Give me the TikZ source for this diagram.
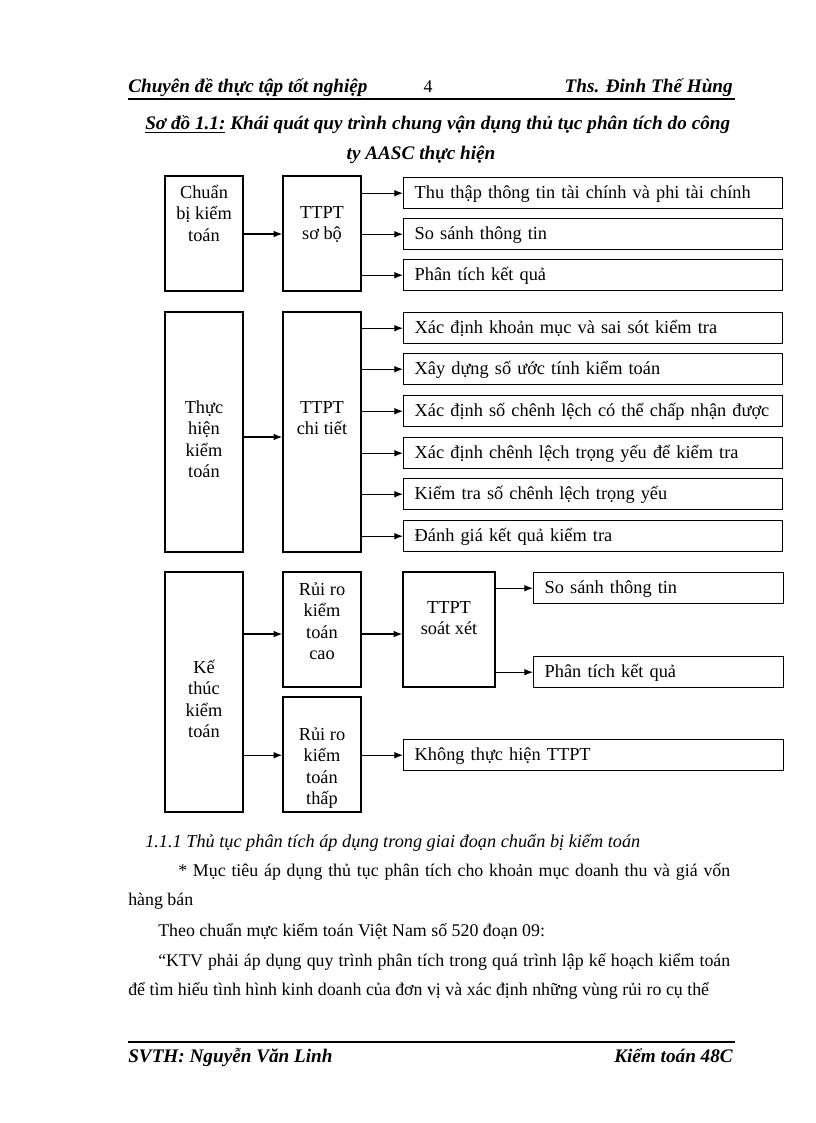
\documentclass[tikz,border=0pt]{standalone}
\usepackage{fontspec}
\setmainfont{Liberation Serif}
\usetikzlibrary{arrows.meta,fit}
\newcommand\stk[1]{\begin{tabular}{@{}c@{}}#1\end{tabular}}
\begin{document}
\begin{tikzpicture}[x=0.75pt,y=-0.75pt,
  font=\fontsize{13.75}{16.1}\selectfont,
  box/.style={draw, line width=1.1pt, inner sep=0pt},
  lbl/.style={inner sep=0pt, anchor=north},
  rbox/.style={draw, line width=1.1pt, anchor=north west, minimum width=284.25pt,
    minimum height=23.25pt, text width=267.75pt, align=left, inner xsep=8.25pt,
    inner ysep=0pt, text height=11pt, text depth=2.75pt},
  arr/.style={line width=0.9pt, -{Latex[length=6.5pt,width=5pt]}},
  txt/.style={inner sep=0pt, anchor=base west},
  body/.style={font=\fontsize{13.4}{16.1}\selectfont},
  bi/.style={font=\fontsize{14.4}{17}\selectfont\bfseries\itshape},
  tbi/.style={font=\fontsize{14.4}{17}\selectfont\bfseries\itshape},
  rule/.style={line width=1.6pt}]
\fill[white] (0,0) rectangle (816,1123);
\useasboundingbox (0,0) rectangle (816,1123);

% header
\node[txt, bi] (h1) at (128,93) {Chuyên đề thực tập tốt nghiệp};
\node[inner sep=0pt, anchor=base, body] (h2) at (428,93) {4};
\node[inner sep=0pt, anchor=base east, bi] (h3) at (733,93) {Ths. Đinh Thế Hùng};
\draw[rule] (128,99) -- (735,99);

% title
\node[txt, tbi] (t1) at (145,130) {\makebox[438.75pt][s]{\underline{Sơ đồ 1.1:} Khái quát quy trình chung vận dụng thủ tục phân tích do công}};
\node[inner sep=0pt, anchor=base, tbi] (t2) at (421,160) {ty AASC thực hiện};

% left boxes
\node[box, fit={(165,176) (243,291)}] (cb) {};
\node[box, fit={(283,176) (361,291)}] (sb) {};
\node[box, fit={(165,312) (243,552)}] (th) {};
\node[box, fit={(283,312) (361,552)}] (ct) {};
\node[box, fit={(165,572) (243,812)}] (kt) {};
\node[box, fit={(283,572) (361,687)}] (rc) {};
\node[box, fit={(283,697) (361,812)}] (rt) {};
\node[box, fit={(403,572) (495,687)}] (sx) {};

\node[lbl] (cbt) at (204,183) {\stk{Chuẩn\\bị kiểm\\toán}};
\node[lbl] (sbt) at (322,203) {\stk{TTPT\\sơ bộ}};
\node[lbl] (tht) at (204,398) {\stk{Thực\\hiện\\kiểm\\toán}};
\node[lbl] (ctt) at (322,398) {\stk{TTPT\\chi tiết}};
\node[lbl] (ktt) at (204,658) {\stk{Kế\\thúc\\kiểm\\toán}};
\node[lbl] (rct) at (322,580) {\stk{Rủi ro\\kiểm\\toán\\cao}};
\node[lbl] (rtt) at (322,725) {\stk{Rủi ro\\kiểm\\toán\\thấp}};
\node[lbl] (sxt) at (449,598) {\stk{TTPT\\soát xét}};

% right boxes
\node[rbox] (r1) at (403,177) {Thu thập thông tin tài chính và phi tài chính};
\node[rbox] (r2) at (403,218) {So sánh thông tin};
\node[rbox] (r3) at (403,259) {Phân tích kết quả};
\node[rbox] (r4) at (403,312) {Xác định khoản mục và sai sót kiểm tra};
\node[rbox] (r5) at (403,353) {Xây dựng số ước tính kiểm toán};
\node[rbox] (r6) at (403,395) {Xác định số chênh lệch có thể chấp nhận được};
\node[rbox] (r7) at (403,437) {Xác định chênh lệch trọng yếu để kiểm tra};
\node[rbox] (r8) at (403,478) {Kiểm tra số chênh lệch trọng yếu};
\node[rbox] (r9) at (403,520) {Đánh giá kết quả kiểm tra};
\node[rbox, minimum width=187.5pt, text width=171pt] (ss) at (533,572) {So sánh thông tin};
\node[rbox, minimum width=187.5pt, text width=171pt] (pk) at (533,656) {Phân tích kết quả};
\node[rbox, minimum width=285pt, text width=268.5pt] (ko) at (403,739) {Không thực hiện TTPT};

% arrows
\draw[arr] (cb.east |- 0,234) -- (sb.west |- 0,234);
\foreach \r in {r1,r2,r3} \draw[arr] (sb.east |- \r.west) -- (\r.west);
\draw[arr] (th.east |- 0,437) -- (ct.west |- 0,437);
\foreach \r in {r4,r5,r6,r7,r8,r9} \draw[arr] (ct.east |- \r.west) -- (\r.west);
\draw[arr] (kt.east |- 0,634) -- (rc.west |- 0,634);
\draw[arr] (rc.east |- 0,634) -- (sx.west |- 0,634);
\draw[arr] (kt.east |- ko.west) -- (rt.west |- ko.west);
\draw[arr] (rt.east |- ko.west) -- (ko.west);
\draw[arr] (sx.east |- ss.west) -- (ss.west);
\draw[arr] (sx.east |- pk.west) -- (pk.west);

% body text
\node[txt, font=\fontsize{13.7}{16.1}\selectfont\itshape] (b1) at (145,847) {1.1.1 Thủ tục phân tích áp dụng trong giai đoạn chuẩn bị kiểm toán};
\node[txt, body] (b2) at (178,876) {\makebox[414pt][s]{* Mục tiêu áp dụng thủ tục phân tích cho khoản mục doanh thu và giá vốn}};
\node[txt, body] (b3) at (128,905) {hàng bán};
\node[txt, body] (b4) at (158,936) {Theo chuẩn mực kiểm toán Việt Nam số 520 đoạn 09:};
\node[txt, body] (b5) at (158,966) {\makebox[429pt][s]{“KTV phải áp dụng quy trình phân tích trong quá trình lập kế hoạch kiểm toán}};
\node[txt, body] (b6) at (128,995) {để tìm hiểu tình hình kinh doanh của đơn vị và xác định những vùng rủi ro cụ thể};

% footer
\draw[rule] (128,1042) -- (735,1042);
\node[txt, bi] (f1) at (128,1062) {SVTH: Nguyễn Văn Linh};
\node[inner sep=0pt, anchor=base east, bi] (f2) at (733,1062) {Kiểm toán 48C};
\end{tikzpicture}
\end{document}
